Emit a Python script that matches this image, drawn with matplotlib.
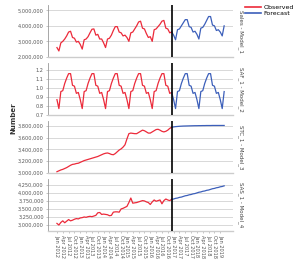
import matplotlib.pyplot as plt
from matplotlib.lines import Line2D
from matplotlib.ticker import FuncFormatter

# monthly data, Jan 2012 - Dec 2016 observed, Jan 2017 - Mar 2019 forecast
tick_labels = ['Jan 2012', 'Apr 2012', 'Jul 2012', 'Oct 2012',
               'Jan 2013', 'Apr 2013', 'Jul 2013', 'Oct 2013',
               'Jan 2014', 'Apr 2014', 'Jul 2014', 'Oct 2014',
               'Jan 2015', 'Apr 2015', 'Jul 2015', 'Oct 2015',
               'Jan 2016', 'Apr 2016', 'Jul 2016', 'Oct 2016',
               'Jan 2017', 'Apr 2017', 'Jul 2017', 'Oct 2017',
               'Jan 2018', 'Apr 2018', 'Jul 2018', 'Oct 2018',
               'Jan 2019']

# Sales (millions)
sales_obs = [2.60, 2.38, 2.90, 3.00, 3.15, 3.35, 3.60, 3.65, 3.25, 3.20, 2.95, 3.00,
             2.80, 2.50, 3.10, 3.15, 3.30, 3.55, 3.78, 3.80, 3.40, 3.45, 3.15, 3.15,
             2.90, 2.60, 3.15, 3.20, 3.40, 3.70, 3.95, 3.95, 3.60, 3.55, 3.35, 3.40,
             3.25, 3.00, 3.55, 3.60, 3.80, 4.00, 4.25, 4.30, 3.85, 3.80, 3.50, 3.25,
             3.30, 3.00, 3.75, 3.80, 3.95, 4.10, 4.30, 4.35, 3.85, 3.80, 3.55, 3.60]
sales_fc = [3.40, 3.10, 3.75, 3.80, 4.00, 4.20, 4.40, 4.40, 3.95, 3.90, 3.60, 3.65,
            3.45, 3.15, 3.85, 3.90, 4.10, 4.35, 4.60, 4.60, 4.05, 4.00, 3.70, 3.75,
            3.60, 3.35, 4.00]

# seasonal adjustment factors
saf_obs = [0.87, 0.77, 0.96, 0.97, 1.05, 1.11, 1.16, 1.16, 1.03, 1.02, 0.94, 0.95,
           0.87, 0.77, 0.96, 0.97, 1.05, 1.11, 1.16, 1.16, 1.03, 1.02, 0.94, 0.95,
           0.87, 0.77, 0.96, 0.97, 1.05, 1.11, 1.16, 1.16, 1.03, 1.02, 0.94, 0.95,
           0.87, 0.77, 0.96, 0.97, 1.05, 1.11, 1.16, 1.16, 1.03, 1.02, 0.94, 0.95,
           0.87, 0.77, 0.96, 0.97, 1.05, 1.11, 1.16, 1.16, 1.03, 1.02, 0.94, 0.95]
saf_fc = [0.87, 0.77, 0.96, 0.97, 1.05, 1.11, 1.16, 1.16, 1.03, 1.02, 0.94, 0.95,
          0.87, 0.77, 0.96, 0.97, 1.05, 1.11, 1.16, 1.16, 1.03, 1.02, 0.94, 0.95,
          0.87, 0.77, 0.96]

# trend-cycle (millions)
stc_obs = [3.02, 3.035, 3.05, 3.06, 3.075, 3.09, 3.11, 3.13, 3.145, 3.15, 3.16, 3.165,
           3.18, 3.195, 3.21, 3.22, 3.23, 3.24, 3.25, 3.26, 3.27, 3.28, 3.295, 3.31,
           3.325, 3.335, 3.34, 3.33, 3.315, 3.31, 3.33, 3.36, 3.39, 3.41, 3.44, 3.48,
           3.58, 3.67, 3.68, 3.675, 3.67, 3.67, 3.69, 3.71, 3.73, 3.72, 3.70, 3.68,
           3.68, 3.70, 3.72, 3.74, 3.745, 3.73, 3.71, 3.70, 3.71, 3.73, 3.76, 3.78]
stc_fc = [3.785, 3.79, 3.793, 3.796, 3.798, 3.80, 3.801, 3.802, 3.803, 3.804, 3.805, 3.806,
          3.806, 3.807, 3.807, 3.808, 3.808, 3.809, 3.809, 3.809, 3.81, 3.81, 3.81, 3.81,
          3.81, 3.81, 3.81]

# seasonally adjusted series (millions)
sas_obs = [3.05, 3.00, 3.08, 3.13, 3.07, 3.12, 3.17, 3.13, 3.15, 3.18, 3.20, 3.19,
           3.22, 3.23, 3.25, 3.24, 3.26, 3.27, 3.26, 3.28, 3.30, 3.38, 3.39, 3.33,
           3.34, 3.33, 3.32, 3.29, 3.30, 3.40, 3.41, 3.41, 3.40, 3.50, 3.52, 3.55,
           3.58, 3.70, 3.84, 3.68, 3.69, 3.70, 3.72, 3.74, 3.76, 3.75, 3.72, 3.70,
           3.64, 3.72, 3.78, 3.74, 3.76, 3.78, 3.66, 3.76, 3.81, 3.78, 3.76, 3.80]
sas_fc = [3.81, 3.83, 3.84, 3.86, 3.87, 3.89, 3.91, 3.92, 3.94, 3.95, 3.97, 3.98,
          4.00, 4.02, 4.03, 4.05, 4.06, 4.08, 4.09, 4.11, 4.13, 4.14, 4.16, 4.17,
          4.19, 4.20, 4.22]

panel_names = ['Sales - Model_1', 'SAF_1 - Model_2', 'STC_1 - Model_3', 'SAS_1 - Model_4']

red = '#ec2a3a'
blue = '#3c5fba'

series = [(sales_obs, sales_fc, 1e6), (saf_obs, saf_fc, 1), (stc_obs, stc_fc, 1e6), (sas_obs, sas_fc, 1e6)]
ylims = [(2.0e6, 5.34e6), (0.7, 1.278), (3.0e6, 3.885e6), (2.817e6, 4.43e6)]
yticks = [[2e6, 3e6, 4e6, 5e6],
          [0.7, 0.8, 0.9, 1.0, 1.1, 1.2],
          [3.0e6, 3.2e6, 3.4e6, 3.6e6, 3.8e6],
          [3.0e6, 3.25e6, 3.5e6, 3.75e6, 4.0e6, 4.25e6]]

fig, axes = plt.subplots(4, 1, figsize=(3.0, 2.66), dpi=100, sharex=True)
fig.subplots_adjust(left=0.16, right=0.777, top=0.981, bottom=0.132, hspace=0.12)

n_obs = len(sales_obs)
x_obs = list(range(n_obs))
x_fc = list(range(n_obs - 1, n_obs + len(sales_fc)))

for i, ax in enumerate(axes):
    obs, fc, scale = series[i]
    ax.plot(x_obs, [v * scale for v in obs], color=red, lw=0.9, zorder=3)
    ax.plot(x_fc, [v * scale for v in [obs[-1]] + fc], color=blue, lw=0.9, zorder=3)
    ax.axvline(n_obs - 1, color='black', lw=1.2, zorder=4)
    ax.set_ylim(*ylims[i])
    ax.set_yticks(yticks[i])
    if scale == 1:
        ax.yaxis.set_major_formatter(FuncFormatter(lambda v, p: f'{v:.1f}'))
    else:
        ax.yaxis.set_major_formatter(FuncFormatter(lambda v, p: f'{v:,.0f}'))
    ax.grid(axis='y', color='#d8d8d8', lw=0.7)
    ax.set_axisbelow(True)
    for s in ['top', 'right']:
        ax.spines[s].set_visible(False)
    ax.spines['left'].set_color('#999999')
    ax.spines['left'].set_linewidth(0.6)
    ax.spines['bottom'].set_color('#cccccc')
    ax.spines['bottom'].set_linewidth(1.0)
    ax.tick_params(axis='y', labelsize=3.6, labelcolor='#555555', length=1.5, width=0.4,
                   color='#999999', pad=1.5)
    ax.tick_params(axis='x', bottom=(i == 3), length=1.5, width=0.4, color='#999999')
    ax.text(1.025, 0.5, panel_names[i], transform=ax.transAxes, rotation=-90,
            ha='left', va='center', fontsize=4, color='#444444')

axes[3].set_xlim(-4.6, 90.6)
axes[3].set_xticks(list(range(0, 87, 3)))
axes[3].set_xticklabels(tick_labels, rotation=-90, fontsize=3.6, color='#555555')
axes[3].tick_params(axis='x', pad=1.5)

fig.text(0.045, 0.556, 'Number', rotation=90, ha='center', va='center',
         fontsize=5, fontweight='bold', color='#333333')

handles = [Line2D([0], [0], color=red, lw=1.2), Line2D([0], [0], color=blue, lw=1.2)]
fig.legend(handles, ['Observed', 'Forecast'], loc='upper left', bbox_to_anchor=(0.8, 1.0),
           frameon=False, fontsize=4.5, handlelength=2.6, handletextpad=0.4,
           labelspacing=0.1, borderpad=0.3)

plt.savefig('out.png', dpi=100)
